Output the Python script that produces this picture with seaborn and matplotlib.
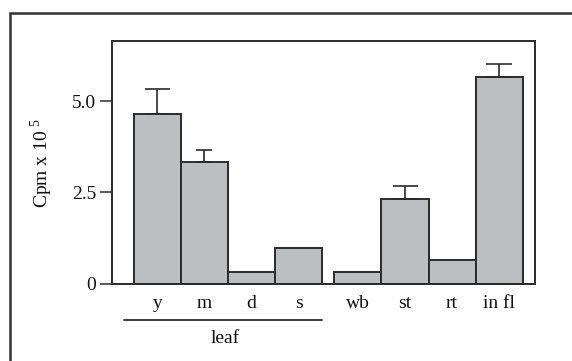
import matplotlib
matplotlib.use("Agg")
import matplotlib.pyplot as plt
import matplotlib.transforms as mtransforms
from matplotlib.patches import Rectangle
import seaborn as sns
import pandas as pd

# --- Data ---
tissues = ['y', 'm', 'd', 's', 'wb', 'st', 'rt', 'in fl']
cpm = [4.66, 3.33, 0.33, 0.99, 0.33, 2.32, 0.66, 5.67]
cpm_err = [0.67, 0.33, 0, 0, 0, 0.35, 0, 0.34]
yticks = [0, 2.5, 5.0]
ytick_labels = ['0', '2.5', '5.0']

# layout: bar slots, leaf group then a small gap
slots = [0, 1, 2, 3, 4.26, 5.26, 6.26, 7.26]
caps = [9, 5.6, 0, 0, 0, 9, 0, 9.2]

df = pd.DataFrame({'tissue': tissues, 'cpm': cpm, 'slot': slots})

sns.set_style("ticks")
plt.rcParams['font.family'] = ['Liberation Serif', 'DejaVu Serif']
plt.rcParams['mathtext.fontset'] = 'custom'
plt.rcParams['mathtext.rm'] = 'Liberation Serif'

ink = '#2b2b2b'
fig = plt.figure(figsize=(5.72, 3.61), dpi=100)
ax = fig.add_axes([0.1963, 0.2141, 0.739, 0.6723])

sns.barplot(data=df, x='slot', y='cpm', native_scale=True, width=1,
            color='#bdbec0', saturation=1, edgecolor=ink, linewidth=1.4,
            errorbar=None, ax=ax)

for x, v, e, c in zip(slots, cpm, cpm_err, caps):
    if e > 0:
        ax.errorbar(x, v, yerr=[[0], [e]], fmt='none', ecolor=ink,
                    elinewidth=1.2, capsize=c, capthick=1.2, zorder=1)

ax.set_xlim(-0.954, 8.02)
ax.set_ylim(0, 6.65)
ax.set_xticks(slots, tissues)
ax.set_yticks(yticks, ytick_labels)
ax.tick_params(axis='x', length=0, pad=8, labelsize=14, colors='#111111')
ax.tick_params(axis='y', length=8.6, width=1.1, pad=3, labelsize=14,
               color=ink, labelcolor='#111111')
for sp in ax.spines.values():
    sp.set_visible(True)
    sp.set_color(ink)
    sp.set_linewidth(1.4)
ax.set_xlabel('')
ax.set_ylabel(r'Cpm x 10 ${}^{5}$', fontsize=14, labelpad=12, color='#111111')

# leaf bracket below the first group
trans = mtransforms.blended_transform_factory(ax.transData, ax.transAxes)
ax.plot([-0.70, 3.5], [-0.151, -0.151], transform=trans, color=ink,
        lw=1.3, clip_on=False)
ax.text(1.44, -0.224, 'leaf', transform=trans, ha='center', va='center',
        fontsize=14, color='#111111')

# outer panel frame (cut by the image edge at right and bottom)
fig.patches.append(Rectangle((10 / 572, -0.1), 1.2, 1.1 - 13 / 361,
                             transform=fig.transFigure, fill=False,
                             edgecolor='#333333', linewidth=1.8))

fig.savefig('out.png', dpi=100)
